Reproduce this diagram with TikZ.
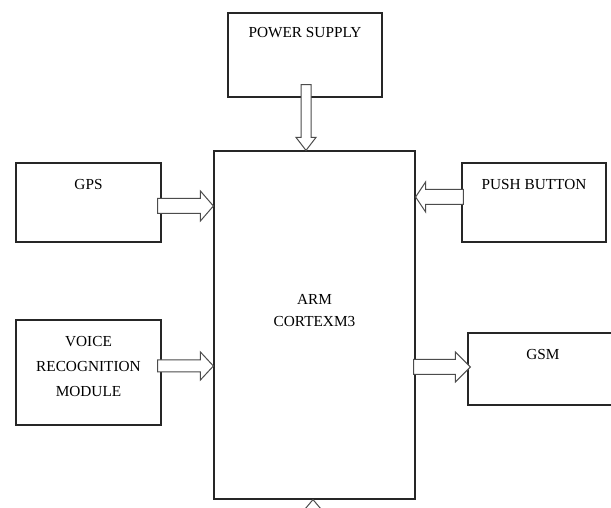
\documentclass[tikz,border=0pt]{standalone}
\usepackage{fontspec}
\setmainfont{Liberation Serif}
\usetikzlibrary{positioning,calc}

% outlined block arrow from #1 to #2: shaft half width, head half width, head length
\newcommand{\fatarrow}[5]{%
  \coordinate (fa-base) at ($(#2)!#5pt!(#1)$);
  \draw[fat arrow] ($(#1)!#3pt!90:(#2)$) -- ($(fa-base)!#3pt!90:(#2)$)
    -- ($(fa-base)!#4pt!90:(#2)$) -- (#2) -- ($(fa-base)!#4pt!-90:(#2)$)
    -- ($(fa-base)!#3pt!-90:(#2)$) -- ($(#1)!#3pt!-90:(#2)$) -- cycle;}

\begin{document}
\begin{tikzpicture}[x=1pt,y=1pt,
    block/.style={draw=black!85, line width=1.2pt, fill=white, inner sep=0pt,
      align=center, font=\fontsize{15.3}{22}\selectfont},
    fat arrow/.style={draw=black!70, line width=1pt, fill=white, line join=miter}]
        \useasboundingbox[fill=white] (0,0) rectangle (611,508);

        \node[block, minimum width=201pt, text height=176pt, text depth=172pt] (arm) at (314.5,183) {ARM\\CORTEXM3};
        \node[block, minimum width=154pt, text height=25pt, text depth=59pt] (pwr) at (305,453) {POWER SUPPLY};
        \node[block, minimum width=145pt, text height=27pt, text depth=52pt] (gps) at (88.5,305.5) {GPS};
        \node[block, minimum width=144pt, text height=27pt, text depth=52pt] (push) at (534,305.5) {PUSH BUTTON};
        \node[block, minimum width=145pt, text height=77pt, text depth=28pt,
          font=\fontsize{15.3}{25}\selectfont] (voice) at (88.5,135.5) {VOICE\\RECOGNITION\\MODULE};
        \node[block, minimum width=150pt, text height=27pt, text depth=45pt] (gsm) at (543,139) {GSM};

        % arrow ends
        \coordinate (pwr-out) at ([shift={(1,13)}]pwr.south);
        \coordinate (pwr-in) at (pwr-out |- arm.north);
        \coordinate (gps-out) at ([shift={(-4,-3.5)}]gps.east);
        \coordinate (gps-in) at (gps-out -| arm.west);
        \coordinate (push-out) at ([shift={(2,5.5)}]push.west);
        \coordinate (push-in) at (push-out -| arm.east);
        \coordinate (voice-out) at ([shift={(-4,6.5)}]voice.east);
        \coordinate (voice-in) at (voice-out -| arm.west);
        \coordinate (gsm-in) at ([shift={(3,2)}]gsm.west);
        \coordinate (gsm-out) at ($(gsm-in -| arm.east)+(-2,0)$);
        \coordinate (bot-in) at ([xshift=-1.5pt]arm.south);
        \coordinate (bot-out) at ([yshift=-40pt]bot-in);

        \fatarrow{pwr-out}{pwr-in}{5}{10}{13}
        \fatarrow{gps-out}{gps-in}{7.5}{15}{13}
        \fatarrow{push-out}{push-in}{7.5}{15}{10}
        \fatarrow{voice-out}{voice-in}{6}{14}{13}
        \fatarrow{gsm-out}{gsm-in}{7.5}{15}{15}
        \fatarrow{bot-out}{bot-in}{5}{11}{13}
\end{tikzpicture}
\end{document}
